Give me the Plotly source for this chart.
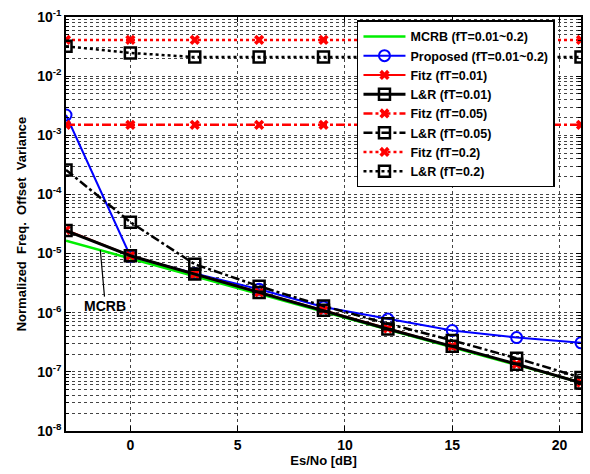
import plotly.graph_objects as go
import math

x = [-3, 0, 3, 6, 9, 12, 15, 18, 21]
mcrb = [1.65e-5, 8.3e-6, 4.2e-6, 2.1e-6, 1.05e-6, 5.2e-7, 2.6e-7, 1.3e-7, 6.6e-8]
proposed = [2.2e-3, 9.0e-6, 4.6e-6, 2.5e-6, 1.25e-6, 7.8e-7, 5.0e-7, 3.8e-7, 3.1e-7]
fitz001 = [2.5e-5, 9.2e-6, 4.5e-6, 2.2e-6, 1.1e-6, 5.4e-7, 2.7e-7, 1.35e-7, 6.6e-8]
lr001 = [2.45e-5, 9.2e-6, 4.5e-6, 2.2e-6, 1.1e-6, 5.3e-7, 2.7e-7, 1.35e-7, 6.5e-8]
fitz005 = [1.5e-3, 1.5e-3, 1.5e-3, 1.5e-3, 1.5e-3, 1.5e-3, 1.5e-3, 1.5e-3, 1.5e-3]
lr005 = [2.6e-4, 3.4e-5, 6.6e-6, 2.8e-6, 1.3e-6, 6.5e-7, 3.4e-7, 1.7e-7, 8.0e-8]
fitz02 = [0.041, 0.041, 0.041, 0.041, 0.041, 0.041, 0.041, 0.041, 0.041]
lr02 = [0.032, 0.0247, 0.021, 0.021, 0.021, 0.021, 0.021, 0.021, 0.021]

xtick_vals = [0, 5, 10, 15, 20]
xtick_text = ["<b>0</b>", "<b>5</b>", "<b>10</b>", "<b>15</b>", "<b>20</b>"]
ytick_vals = [1e-8, 1e-7, 1e-6, 1e-5, 1e-4, 1e-3, 1e-2, 1e-1]
ytick_text = ["<b>10<sup>-8</sup></b>", "<b>10<sup>-7</sup></b>", "<b>10<sup>-6</sup></b>",
              "<b>10<sup>-5</sup></b>", "<b>10<sup>-4</sup></b>", "<b>10<sup>-3</sup></b>",
              "<b>10<sup>-2</sup></b>", "<b>10<sup>-1</sup></b>"]

FONT = "Liberation Sans, Arial, sans-serif"

fig = go.Figure()

def add(name, y, color, dash, width, symbol=None, msize=10, mline=2):
    mode = "lines+markers" if symbol else "lines"
    marker = dict(symbol=symbol, size=msize, color=color,
                  line=dict(color=color, width=mline)) if symbol else None
    fig.add_trace(go.Scatter(x=x, y=y, name="<b>" + name + "</b>", mode=mode,
                             line=dict(color=color, dash=dash, width=width),
                             marker=marker))

add("MCRB (fT=0.01~0.2)", mcrb, "#00ee00", "solid", 2.5)
add("Proposed (fT=0.01~0.2)", proposed, "#0000ff", "solid", 2, "circle-open", 11, 2)
add("Fitz (fT=0.01)", fitz001, "#ff0000", "solid", 2, "x", 9, 0)
add("L&R (fT=0.01)", lr001, "#000000", "solid", 3, "square-open", 11, 2.5)
add("Fitz (fT=0.05)", fitz005, "#ff0000", "dashdot", 2.5, "x", 9, 0)
add("L&R (fT=0.05)", lr005, "#000000", "dashdot", 2.5, "square-open", 11, 2.5)
add("Fitz (fT=0.2)", fitz02, "#ff0000", "dot", 2.5, "x", 9, 0)
add("L&R (fT=0.2)", lr02, "#000000", "dot", 2.5, "square-open", 11, 2.5)

# MCRB annotation pointing at green line
xa = -1.4
ya = math.log10(mcrb[0]) + (math.log10(mcrb[1]) - math.log10(mcrb[0])) * (xa - x[0]) / (x[1] - x[0])
fig.add_annotation(x=xa, y=ya, text="<b>MCRB</b>", showarrow=True, arrowhead=0,
                   arrowwidth=1.2, arrowcolor="black", ax=5, ay=56,
                   font=dict(family=FONT, size=14, color="black"))

axis_common = dict(showline=True, linecolor="black", linewidth=1.5, mirror="ticks",
                   ticks="inside", tickcolor="black", zeroline=False,
                   gridcolor="#444444", griddash="dot", gridwidth=1,
                   tickfont=dict(family=FONT, size=14, color="black"))

fig.update_xaxes(range=[-3, 21], tickvals=xtick_vals, ticktext=xtick_text, ticklen=5,
                 title=dict(text="<b>Es/No [dB]</b>", standoff=4,
                            font=dict(family=FONT, size=13, color="black")),
                 **axis_common)
fig.update_yaxes(type="log", range=[-8, -1], tickvals=ytick_vals, ticktext=ytick_text,
                 ticklen=5,
                 minor=dict(dtick="D1", showgrid=True, gridcolor="#444444", griddash="dot",
                            gridwidth=1, ticks="inside", ticklen=3, tickcolor="black"),
                 title=dict(text="<b>Normalized  Freq.  Offset  Variance</b>", standoff=8,
                            font=dict(family=FONT, size=13, color="black")),
                 **axis_common)

fig.update_layout(
    width=590, height=474,
    margin=dict(l=66, r=7, t=15, b=43),
    paper_bgcolor="white", plot_bgcolor="white",
    showlegend=True,
    legend=dict(x=0.565, y=0.992, xanchor="left", yanchor="top",
                bgcolor="white", bordercolor="black", borderwidth=1.5,
                font=dict(family=FONT, size=12.5, color="black"),
                tracegroupgap=0, itemwidth=42),
)

fig.write_html("out.html")
